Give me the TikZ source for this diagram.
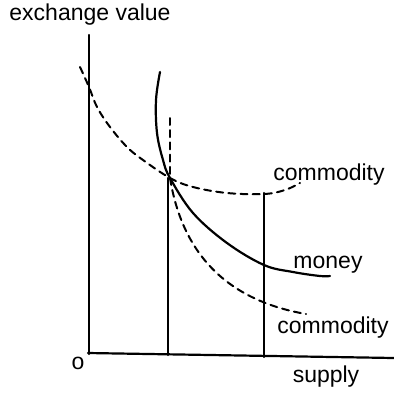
\documentclass[tikz,border=0pt]{standalone}
\usepackage{fontspec}
\setmainfont{Liberation Sans}
\begin{document}
\begin{tikzpicture}[x=0.5pt, y=0.5pt, line width=1.1pt, line cap=round,
        curvedash/.style={dash pattern=on 3.5pt off 2.6pt, line width=1pt},
        lbl/.style={font=\fontsize{11.5}{13}\selectfont, inner sep=0pt}]
            \useasboundingbox (0,0) rectangle (394,392);

            % Axes
            \draw (89,357) -- (89,38);
            \draw (88,39) -- (394,34);

            % Vertical supply lines
            \draw (168,214) -- (168,37);
            \draw (264,199) -- (264,35);
            \draw[curvedash] (170,274) -- (170,214);

            % Money curve
            \draw plot[smooth, tension=0.6] coordinates {(160,320) (156,292) (157,259) (163,232) (170,214) (193,179) (227,149) (264,127) (293,120) (320,116) (330,116)};

            % Commodity curves
            \draw[curvedash] plot[smooth, tension=0.6] coordinates {(80,325) (89,305) (97,285) (110,265) (127,245) (143,232) (170,214) (193,205) (227,199) (264,198) (285,202) (300,209)};
            \draw[curvedash] (170,214) .. controls (182,140) and (225,92) .. (306,78);

            % Labels
            \node[lbl] (yaxis) at (90,377) {exchange value};
            \node[lbl] (xaxis) at (326,15) {supply};
            \node[lbl] (origin) at (78,29) {o};
            \node[lbl] (comtop) at (329,217) {commodity};
            \node[lbl] (money) at (328,127) {money};
            \node[lbl] (combot) at (333,64) {commodity};
        \end{tikzpicture}
\end{document}
